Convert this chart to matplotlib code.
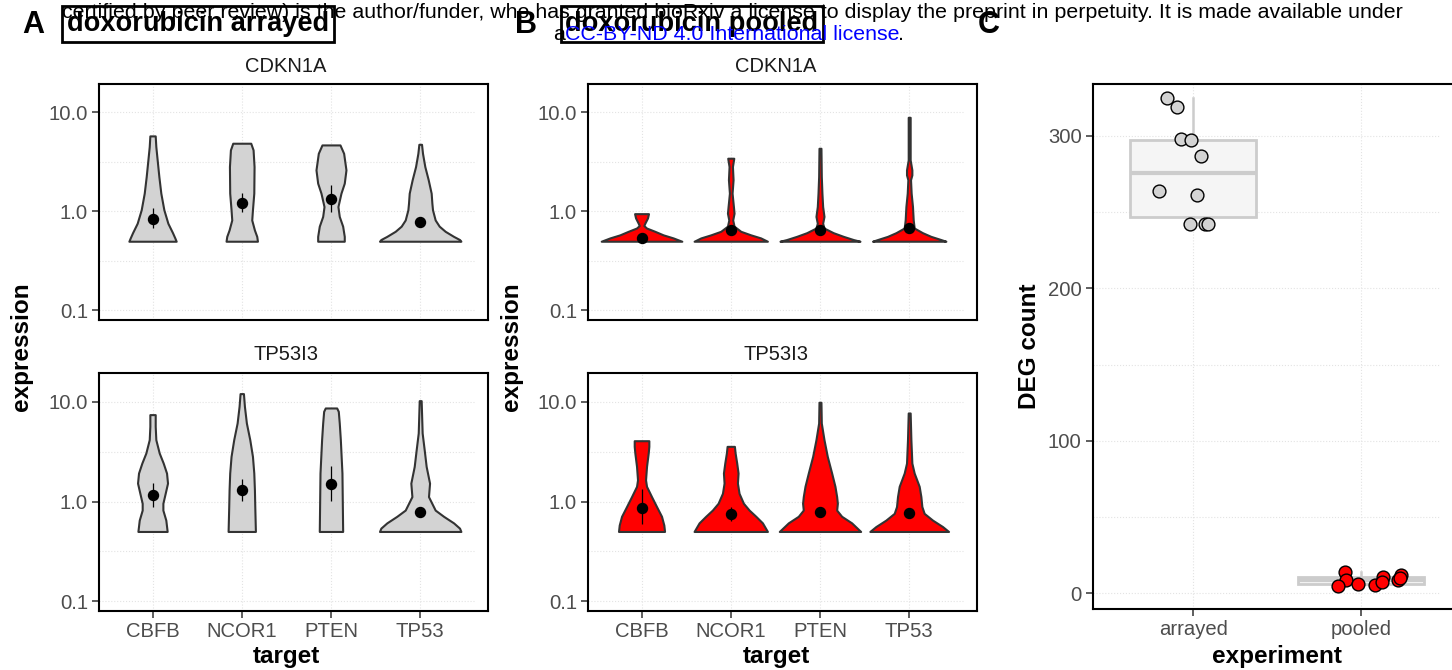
import matplotlib.pyplot as plt
import numpy as np

plt.rcParams['font.family'] = ['Liberation Sans', 'DejaVu Sans']

W, H = 1452, 670

targets = ['CBFB', 'NCOR1', 'PTEN', 'TP53']

# violin outlines: expression level (top -> bottom) and half width
arrayed_cdkn1a_y = [[5.80, 4.52, 3.32, 2.25, 1.53, 1.04, 0.76, 0.61, 0.54, 0.50],
                    [4.89, 4.19, 2.84, 1.53, 1.04, 0.82, 0.65, 0.56, 0.50],
                    [4.70, 3.87, 2.63, 1.93, 1.53, 1.12, 0.89, 0.71, 0.56, 0.50],
                    [4.77, 3.87, 2.84, 2.09, 1.53, 1.21, 1.04, 0.82, 0.71, 0.63, 0.56, 0.52, 0.50]]
arrayed_cdkn1a_w = [[0.030, 0.037, 0.052, 0.071, 0.093, 0.127, 0.172, 0.224, 0.250, 0.265],
                    [0.101, 0.127, 0.138, 0.135, 0.120, 0.112, 0.142, 0.168, 0.176],
                    [0.101, 0.142, 0.168, 0.149, 0.112, 0.078, 0.093, 0.131, 0.149, 0.149],
                    [0.015, 0.026, 0.052, 0.090, 0.123, 0.131, 0.138, 0.168, 0.213, 0.280, 0.374, 0.441, 0.456]]

arrayed_tp53i3_y = [[7.46, 5.69, 4.18, 3.07, 2.43, 1.93, 1.53, 1.21, 0.96, 0.82, 0.65, 0.50],
                    [12.13, 9.04, 6.14, 4.18, 2.84, 1.93, 1.31, 0.89, 0.50],
                    [8.70, 8.05, 6.14, 4.18, 1.93, 0.50],
                    [10.31, 4.88, 3.31, 2.25, 1.53, 1.12, 0.82, 0.71, 0.61, 0.54, 0.50]]
arrayed_tp53i3_w = [[0.030, 0.030, 0.037, 0.075, 0.120, 0.157, 0.168, 0.142, 0.116, 0.116, 0.149, 0.164],
                    [0.019, 0.030, 0.052, 0.090, 0.120, 0.135, 0.142, 0.146, 0.153],
                    [0.064, 0.082, 0.093, 0.105, 0.123, 0.131],
                    [0.011, 0.022, 0.045, 0.067, 0.105, 0.093, 0.168, 0.262, 0.374, 0.441, 0.456]]

pooled_cdkn1a_y = [[0.95, 0.86, 0.76, 0.72, 0.68, 0.63, 0.58, 0.54, 0.50],
                   [3.45, 2.84, 2.09, 1.53, 1.12, 0.96, 0.82, 0.71, 0.63, 0.58, 0.54, 0.50],
                   [4.35, 2.25, 1.53, 1.12, 0.89, 0.76, 0.68, 0.61, 0.56, 0.52, 0.50],
                   [8.94, 3.32, 2.63, 2.34, 2.09, 1.53, 1.12, 0.82, 0.68, 0.61, 0.56, 0.52, 0.50]]
pooled_cdkn1a_w = [[0.078, 0.067, 0.037, 0.026, 0.056, 0.149, 0.243, 0.355, 0.452],
                   [0.034, 0.019, 0.026, 0.015, 0.030, 0.037, 0.022, 0.037, 0.112, 0.224, 0.336, 0.411],
                   [0.011, 0.015, 0.022, 0.030, 0.045, 0.030, 0.045, 0.149, 0.262, 0.374, 0.448],
                   [0.011, 0.011, 0.030, 0.030, 0.015, 0.022, 0.037, 0.045, 0.056, 0.149, 0.243, 0.355, 0.411]]

pooled_tp53i3_y = [[4.08, 3.58, 3.07, 2.25, 1.65, 1.42, 1.12, 0.89, 0.71, 0.58, 0.50],
                   [3.58, 3.07, 2.43, 1.93, 1.53, 1.21, 0.96, 0.82, 0.71, 0.61, 0.50],
                   [9.93, 6.14, 4.18, 2.84, 1.93, 1.42, 1.12, 0.96, 0.82, 0.71, 0.61, 0.50],
                   [7.75, 4.18, 2.43, 1.93, 1.42, 1.12, 0.89, 0.76, 0.65, 0.56, 0.50]]
pooled_tp53i3_w = [[0.082, 0.082, 0.075, 0.056, 0.045, 0.056, 0.112, 0.168, 0.224, 0.250, 0.258],
                   [0.041, 0.049, 0.067, 0.082, 0.075, 0.093, 0.142, 0.206, 0.281, 0.355, 0.411],
                   [0.011, 0.015, 0.045, 0.082, 0.131, 0.168, 0.187, 0.195, 0.187, 0.243, 0.355, 0.456],
                   [0.011, 0.019, 0.030, 0.056, 0.112, 0.131, 0.142, 0.168, 0.262, 0.374, 0.441]]

# mean and interval per target
arrayed_cdkn1a_mean = [0.84, 1.23, 1.34, 0.78]
arrayed_cdkn1a_lo = [0.68, 0.98, 0.98, 0.75]
arrayed_cdkn1a_hi = [1.08, 1.55, 1.83, 0.81]
arrayed_tp53i3_mean = [1.15, 1.31, 1.49, 0.79]
arrayed_tp53i3_lo = [0.89, 1.02, 1.02, 0.76]
arrayed_tp53i3_hi = [1.53, 1.68, 2.29, 0.82]
pooled_cdkn1a_mean = [0.54, 0.65, 0.65, 0.68]
pooled_cdkn1a_lo = [0.53, 0.62, 0.63, 0.66]
pooled_cdkn1a_hi = [0.56, 0.69, 0.67, 0.71]
pooled_tp53i3_mean = [0.86, 0.75, 0.79, 0.77]
pooled_tp53i3_lo = [0.60, 0.63, 0.77, 0.75]
pooled_tp53i3_hi = [1.33, 0.89, 0.81, 0.79]

# DEG counts and the horizontal jitter seen in the picture
experiments = ['arrayed', 'pooled']
arrayed_deg = [325.1, 319.0, 297.8, 297.2, 286.9, 264.1, 261.1, 242.0, 242.0, 242.0]
arrayed_jit = [-0.159, -0.099, -0.073, -0.016, 0.044, -0.203, 0.020, -0.020, 0.070, 0.090]
pooled_deg = [14.0, 8.7, 4.8, 5.9, 5.4, 10.9, 7.2, 8.7, 12.0, 9.8]
pooled_jit = [-0.095, -0.092, -0.137, -0.020, 0.083, 0.133, 0.127, 0.219, 0.238, 0.232]

fig = plt.figure(figsize=(W / 100, H / 100), dpi=100)


def rect(l, t, r, b):
    return [l / W, 1 - b / H, (r - l) / W, (b - t) / H]


def ftext(x, y, s, **kw):
    fig.text(x / W, 1 - y / H, s, **kw)


tick_kw = dict(direction='out', length=5, width=1.1, color='#333333',
               labelsize=14.6, labelcolor='#4D4D4D', pad=3)
grid_kw = dict(color='#E3E3E3', lw=0.8, ls=':', zorder=0)


def violin_panel(box, ys, ws, mean, lo, hi, fill, show_x):
    ax = fig.add_axes(rect(*box))
    ax.set_yscale('log')
    ax.set_xlim(0.4, 4.76)
    ax.set_ylim(0.08, 19.4)
    for g in [0.1, 0.316, 1, 3.16, 10]:
        ax.hlines(g, 0.4, 4.6, **grid_kw)
    for i in range(4):
        ax.axvline(i + 1, **grid_kw)
    for i, (y, w) in enumerate(zip(ys, ws)):
        y = np.array(y)
        w = np.array(w)
        ax.fill_betweenx(y, i + 1 - w, i + 1 + w, facecolor=fill,
                         edgecolor='#333333', lw=1.5, zorder=2)
    xs = np.arange(1, 5)
    ax.vlines(xs, lo, hi, color='black', lw=0.9, zorder=3)
    ax.plot(xs, mean, 'o', color='black', ms=7.2, zorder=4)
    ax.yaxis.set_minor_locator(plt.NullLocator())
    ax.set_yticks([0.1, 1, 10])
    ax.set_yticklabels(['0.1', '1.0', '10.0'])
    if show_x:
        ax.set_xticks(xs)
        ax.set_xticklabels(targets)
    else:
        ax.set_xticks([])
    ax.tick_params(**tick_kw)
    for s in ax.spines.values():
        s.set_linewidth(1.5)
        s.set_color('black')
    return ax


TOP = (84, 320)
BOT = (373.3, 610.7)

violin_panel((99, TOP[0], 488, TOP[1]), arrayed_cdkn1a_y, arrayed_cdkn1a_w,
             arrayed_cdkn1a_mean, arrayed_cdkn1a_lo, arrayed_cdkn1a_hi, '#D3D3D3', False)
violin_panel((99, BOT[0], 488, BOT[1]), arrayed_tp53i3_y, arrayed_tp53i3_w,
             arrayed_tp53i3_mean, arrayed_tp53i3_lo, arrayed_tp53i3_hi, '#D3D3D3', True)
violin_panel((588, TOP[0], 977, TOP[1]), pooled_cdkn1a_y, pooled_cdkn1a_w,
             pooled_cdkn1a_mean, pooled_cdkn1a_lo, pooled_cdkn1a_hi, '#FF0000', False)
violin_panel((588, BOT[0], 977, BOT[1]), pooled_tp53i3_y, pooled_tp53i3_w,
             pooled_tp53i3_mean, pooled_tp53i3_lo, pooled_tp53i3_hi, '#FF0000', True)

# strip labels and axis titles
for cx in [286, 776]:
    ftext(cx, 67, 'CDKN1A', ha='center', va='center', fontsize=14.5, color='#1A1A1A')
    ftext(cx, 355, 'TP53I3', ha='center', va='center', fontsize=14.5, color='#1A1A1A')
    ftext(cx, 657, 'target', ha='center', va='center', fontsize=17.5, fontweight='bold')
for lx in [22, 512]:
    ftext(lx, 347, 'expression', ha='center', va='center', rotation=90,
          fontsize=17.5, fontweight='bold')

# panel C
axc = fig.add_axes(rect(1092.7, 84, 1461.6, 609.3))
axc.set_xlim(0.4, 2.6)
axc.set_ylim(-10.5, 334.1)
for g in [0, 50, 100, 150, 200, 250, 300]:
    axc.hlines(g, 0.4, 2.465, **grid_kw)
for i in range(2):
    axc.axvline(i + 1, **grid_kw)
axc.boxplot([arrayed_deg, pooled_deg], positions=[1, 2], widths=0.75,
            patch_artist=True, showfliers=False, whis=1.5,
            boxprops=dict(facecolor='#F5F5F5', edgecolor='#CCCCCC', lw=2.0),
            medianprops=dict(color='#CCCCCC', lw=3.0),
            whiskerprops=dict(color='#CCCCCC', lw=1.8),
            capprops=dict(color='#CCCCCC', lw=0), zorder=2)
axc.scatter(1 + np.array(arrayed_jit), arrayed_deg, s=85, c='#D3D3D3',
            edgecolors='black', linewidths=1, zorder=3)
axc.scatter(2 + np.array(pooled_jit), pooled_deg, s=85, c='#FF0000',
            edgecolors='black', linewidths=1, zorder=3)
axc.set_xticks([1, 2])
axc.set_xticklabels(experiments)
axc.set_yticks([0, 100, 200, 300])
axc.tick_params(**tick_kw)
for s in axc.spines.values():
    s.set_linewidth(1.5)
    s.set_color('black')
ftext(1030, 346, 'DEG count', ha='center', va='center', rotation=90,
      fontsize=17.5, fontweight='bold')
ftext(1277, 656, 'experiment', ha='center', va='center', fontsize=17.5, fontweight='bold')

# panel letters and boxed titles
for lx, letter in [(33, 'A'), (526, 'B'), (989, 'C')]:
    ftext(lx, 25, letter, ha='center', va='center', fontsize=22, fontweight='bold')
ftext(198, 24, 'doxorubicin arrayed', ha='center', va='center', fontsize=19.6,
      fontweight='bold', bbox=dict(boxstyle='square,pad=0.18', fc='white', ec='black', lw=2))
ftext(692, 24, 'doxorubicin pooled', ha='center', va='center', fontsize=19.6,
      fontweight='bold', bbox=dict(boxstyle='square,pad=0.18', fc='white', ec='black', lw=2))

# preprint watermark
wm = 15.4
ftext(62, 12, 'certified by peer review) is the author/funder, who has granted bioRxiv a license '
      'to display the preprint in perpetuity. It is made available under',
      ha='left', va='center', fontsize=wm, zorder=10)
ftext(553, 35, 'a', ha='left', va='center', fontsize=wm, zorder=10)
ftext(565, 35, 'CC-BY-ND 4.0 International license', ha='left', va='center',
      fontsize=wm, color='blue', zorder=10)
ftext(898, 35, '.', ha='left', va='center', fontsize=wm, zorder=10)

fig.savefig('out.png', dpi=100)
